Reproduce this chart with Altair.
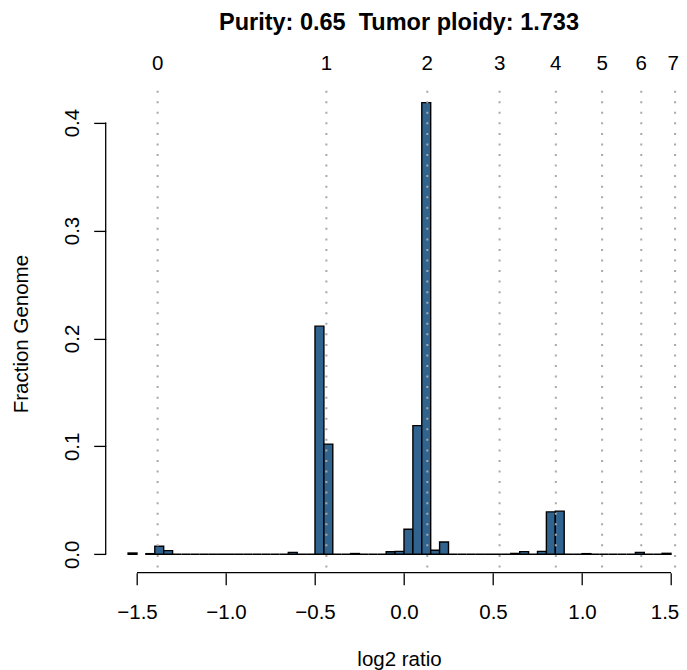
import altair as alt
import pandas as pd

# ---- data ----
bin_start = [round(-1.55 + 0.05 * i, 2) for i in range(61)]
fraction = [
    0.0012, None, 0.0006, 0.0074, 0.0034,            # -1.55 .. -1.35
    0, 0, 0, 0, 0, 0, 0, 0, 0, 0, 0, 0, 0,           # -1.30 .. -0.70
    0.0018, 0, 0,                                     # -0.65 .. -0.55
    0.2114, 0.1021,                                   # -0.50, -0.45
    0, 0, 0.0007, 0, 0, 0,                            # -0.40 .. -0.15
    0.0023, 0.0027, 0.0232, 0.1192, 0.4185, 0.0038, 0.0114,  # -0.10 .. 0.20
    0, 0, 0, 0, 0, 0, 0,                              # 0.25 .. 0.55
    0.0008, 0.0025, 0, 0.0027, 0.0393, 0.0400,        # 0.60 .. 0.85
    0, 0, 0.0006, 0, 0, 0, 0, 0,                      # 0.90 .. 1.25
    0.0018, 0, 0, 0.0009,                             # 1.30 .. 1.45
]
cn_labels = ["0", "1", "2", "3", "4", "5", "6", "7"]
cn_log2 = [-1.384, -0.436, 0.131, 0.537, 0.853, 1.113, 1.333, 1.523]
x_ticks = [-1.5, -1.0, -0.5, 0.0, 0.5, 1.0, 1.5]
y_ticks = [0.0, 0.1, 0.2, 0.3, 0.4]
title_text = "Purity: 0.65\u00a0 Tumor ploidy: 1.733"
x_title = "log2 ratio"
y_title = "Fraction Genome"

# ---- layout ----
FONT = "Liberation Sans, Arial, Helvetica, sans-serif"
W, H = 573, 487.8
xs = alt.Scale(domain=[-1.6758, 1.5433], nice=False, zero=False)
ys = alt.Scale(domain=[-0.01705, 0.4349], nice=False, zero=False)

x_axis = alt.Axis(
    values=x_ticks, format=".1f", title=x_title, grid=False, domain=False,
    tickSize=12, tickColor="black", tickWidth=1.3,
    labelFont=FONT, labelFontSize=20.5, labelColor="black",
    labelBaseline="alphabetic", labelPadding=33.3, labelFlush=False,
    labelOverlap=False,
    # the last label sits at the page edge: nudge it in so it is not clipped
    labelOffset={"condition": {"test": "datum.value >= 1.5", "value": -6.5},
                 "value": 0},
    titleFont=FONT, titleFontSize=20.5, titleFontWeight="normal",
    titleColor="black", titleX=293.3, titleY=92.3,
    titleBaseline="alphabetic", titleAlign="center")

y_axis = alt.Axis(
    values=y_ticks, format=".1f", title=y_title, grid=False, domain=False,
    tickSize=12, tickColor="black", tickWidth=1.3,
    labelFont=FONT, labelFontSize=20.5, labelColor="black",
    labelAngle=270, labelAlign="center", labelBaseline="alphabetic",
    labelPadding=15.7, labelFlush=False, labelOverlap=False,
    titleFont=FONT, titleFontSize=20.5, titleFontWeight="normal",
    titleColor="black", titleAngle=270, titleX=-78.7, titleY=248.7,
    titleBaseline="alphabetic", titleAlign="center")

hist = pd.DataFrame({
    "start": bin_start,
    "end": [round(s + 0.05, 2) for s in bin_start],
    "frac": fraction,
}).dropna()

bars = alt.Chart(hist).mark_rect(
    fill="#30648f", stroke="black", strokeWidth=1.4
).encode(
    x=alt.X("start:Q", scale=xs, axis=x_axis),
    x2="end:Q",
    y=alt.Y("frac:Q", scale=ys, axis=y_axis),
    y2=alt.Y2Datum(0),
)

cn_df = pd.DataFrame({"pos": cn_log2, "lab": cn_labels})

dotted = alt.Chart(cn_df).mark_rule(
    stroke="#a8a8a8", strokeWidth=2, strokeDash=[2, 8.55], strokeCap="butt"
).encode(
    x=alt.X("pos:Q", scale=xs, axis=x_axis),
    y=alt.value(5.8),
    y2=alt.value(H),
)

top_labels = alt.Chart(cn_df).mark_text(
    font=FONT, fontSize=20.5, color="black", baseline="alphabetic", align="center"
).encode(
    x=alt.X("pos:Q", scale=xs, axis=x_axis),
    y=alt.value(-14.9),
    text="lab:N",
).transform_filter(alt.datum.lab != "7")

top_label_last = alt.Chart(cn_df).mark_text(
    font=FONT, fontSize=20.5, color="black", baseline="alphabetic", align="center",
    dx=-2
).encode(
    x=alt.X("pos:Q", scale=xs, axis=x_axis),
    y=alt.value(-14.9),
    text="lab:N",
).transform_filter(alt.datum.lab == "7")

title = alt.Chart(pd.DataFrame({"t": [title_text]})).mark_text(
    font=FONT, fontSize=23.5, fontWeight="bold", color="black",
    baseline="alphabetic", align="center"
).encode(
    x=alt.value(293.3),
    y=alt.value(-54.9),
    text="t:N",
)

one = pd.DataFrame({"a": [0]})
x_line = alt.Chart(one).mark_rule(color="black", strokeWidth=1.3).encode(
    x=alt.XDatum(-1.5, scale=xs, axis=x_axis), x2=alt.X2Datum(1.5), y=alt.value(H)
)
y_line = alt.Chart(one).mark_rule(color="black", strokeWidth=1.3).encode(
    x=alt.value(0), y=alt.YDatum(0.0, scale=ys, axis=y_axis), y2=alt.Y2Datum(0.4)
)

chart = alt.layer(
    bars, dotted, top_labels, top_label_last, title, x_line, y_line
).properties(
    width=W,
    height=H,
    autosize=alt.AutoSizeParams(type="none"),
    padding={"left": 97.7, "top": 76.9, "right": 0.3, "bottom": 97.3},
    background="white",
).configure_view(stroke=None)

chart.save("out.html", embed_options={"renderer": "svg", "actions": False})
